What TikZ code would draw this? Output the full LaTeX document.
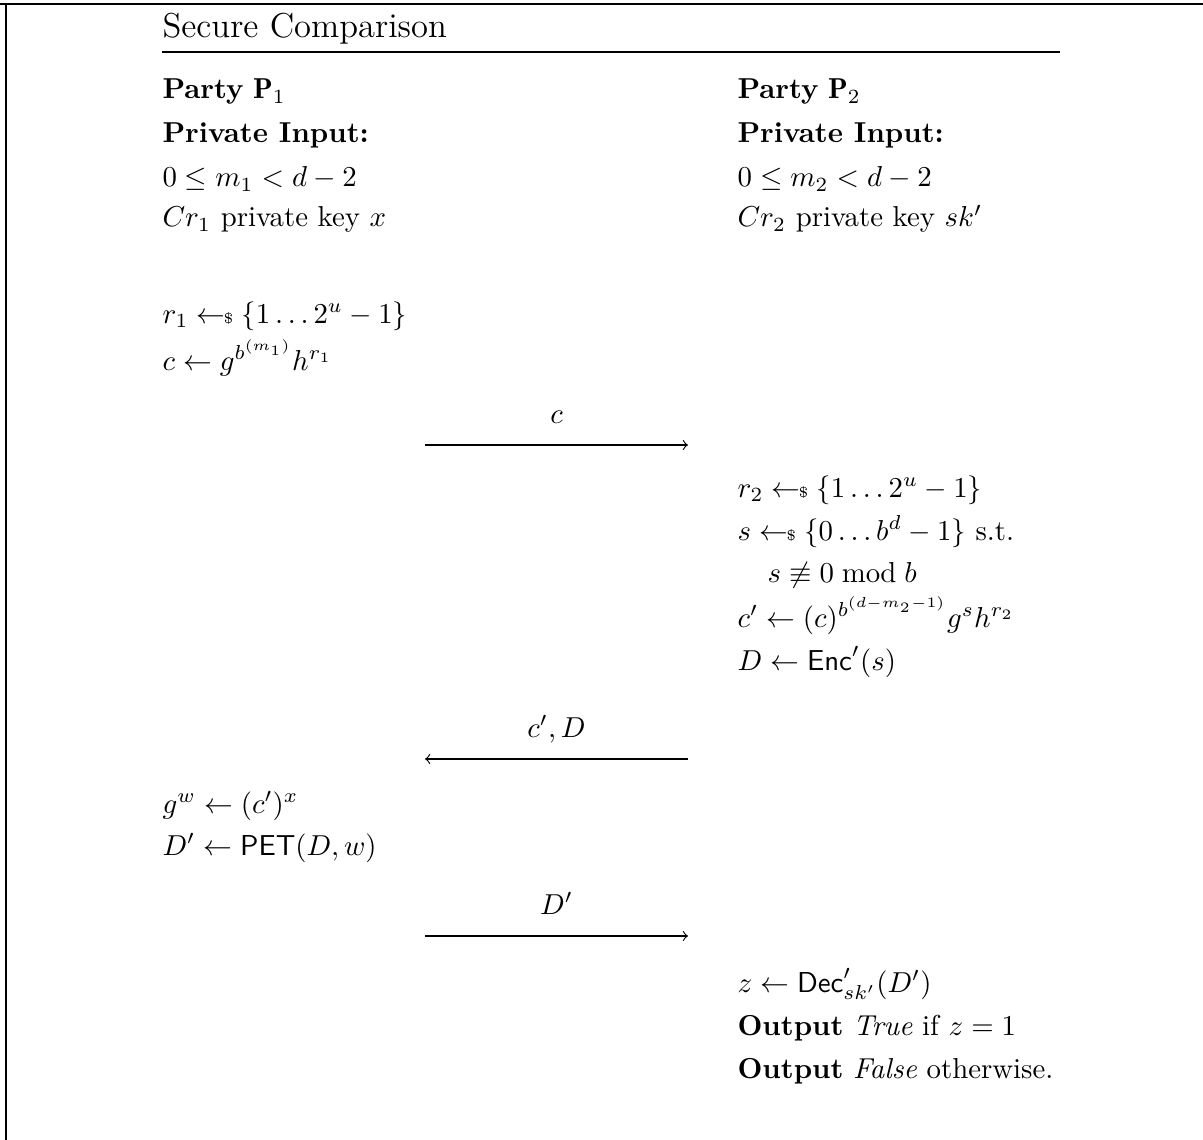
\documentclass[tikz,border=0pt]{standalone}
\usepackage{amsmath}
\usepackage{amssymb}
\usepackage{fontspec}
\usepackage{tikz}

\newcommand{\samp}{\mathrel{\leftarrow\!\!{\scriptscriptstyle\$}}}

\begin{document}
\begin{tikzpicture}[x=0.347pt, y=-0.347pt,
  txt/.style={anchor=base west, inner sep=0pt},
  msglbl/.style={anchor=base, inner sep=0pt, yshift=7.6pt}]
\useasboundingbox (0,0) rectangle (1203,1140);
\draw[line width=0.7pt] (0,4) -- (1203,4);
\draw[line width=0.9pt] (6,4) -- (6,1140);

\node[txt, name=title, font=\large] at (162,38) {Secure Comparison};
\coordinate (rule_l) at (162,52);
\coordinate (rule_r) at (1060,52);
\draw (rule_l) -- (rule_r);

% party 1
\node[txt, name=party_1] at (162,99) {\textbf{Party} $\mathbf{P}_1$};
\node[txt, name=input_1] at (162,143) {\textbf{Private Input:}};
\node[txt, name=range_1] at (162,187) {$0 \le m_1 < d-2$};
\node[txt, name=key_1] at (162,227) {$Cr_1$ private key $x$};
\node[txt, name=stmt_1_1] at (162,323) {$r_1 \samp \{1\ldots 2^u-1\}$};
\node[txt, name=stmt_1_2] at (162,370) {$c \leftarrow g^{b^{(m_1)}} h^{r_1}$};
\node[txt, name=stmt_1_3] at (162,813) {$g^w \leftarrow (c')^x$};
\node[txt, name=stmt_1_4] at (162,855) {$D' \leftarrow \mathsf{PET}(D,w)$};

% party 2
\node[txt, name=party_2] at (737,99) {\textbf{Party} $\mathbf{P}_2$};
\node[txt, name=input_2] at (737,143) {\textbf{Private Input:}};
\node[txt, name=range_2] at (737,187) {$0 \le m_2 < d-2$};
\node[txt, name=key_2] at (737,227) {$Cr_2$ private key $sk'$};
\node[txt, name=stmt_2_1] at (737,497) {$r_2 \samp \{1\ldots 2^u-1\}$};
\node[txt, name=stmt_2_2] at (737,540) {$s \samp \{0\ldots b^d-1\}$ s.t.};
\node[txt, name=stmt_2_3] at (767,582) {$s \not\equiv 0 \bmod b$};
\node[txt, name=stmt_2_4] at (737,627) {$c' \leftarrow (c)^{b^{(d-m_2-1)}} g^s h^{r_2}$};
\node[txt, name=stmt_2_5] at (737,670) {$D \leftarrow \mathsf{Enc}'(s)$};
\node[txt, name=stmt_2_6] at (737,992) {$z \leftarrow \mathsf{Dec}'_{sk'}(D')$};
\node[txt, name=stmt_2_7] at (737,1035) {\textbf{Output} \textit{True} if $z=1$};
\node[txt, name=stmt_2_8] at (737,1078) {\textbf{Output} \textit{False} otherwise.};

% messages
\coordinate (msg_1_l) at (425,445);
\coordinate (msg_1_r) at (688,445);
\coordinate (msg_2_l) at (425,759);
\coordinate (msg_2_r) at (688,759);
\coordinate (msg_3_l) at (425,936);
\coordinate (msg_3_r) at (688,936);

\draw(msg_1_l) edge[->]node[msglbl]{$c$}(msg_1_r);
\draw(msg_2_r) edge[->]node[msglbl]{$c', D$}(msg_2_l);
\draw(msg_3_l) edge[->]node[msglbl]{$D'$}(msg_3_r);
\end{tikzpicture}
\end{document}
